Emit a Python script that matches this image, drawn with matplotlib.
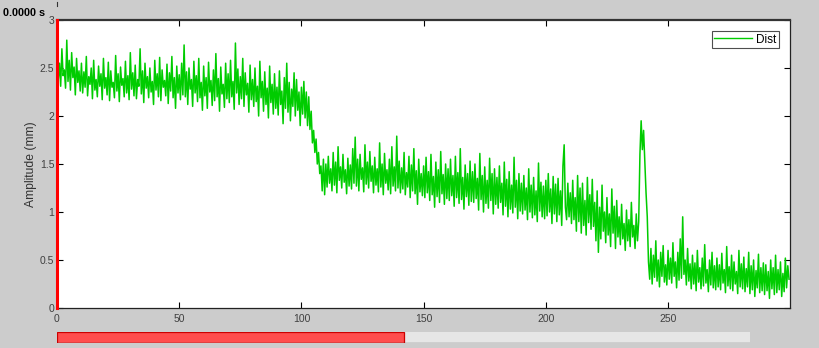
"""Noisy distance trace with a MATLAB-style playback bar underneath."""
import matplotlib

matplotlib.use("Agg")
import matplotlib.pyplot as plt
import numpy as np
from matplotlib.lines import Line2D
from matplotlib.patches import Rectangle

plt.rcParams["font.family"] = ["Liberation Sans", "DejaVu Sans"]

# Samples every 0.5 s (one row = 10 s).
SAMPLE_STEP = 0.5
DIST = [
    2.62, 2.38, 2.55, 2.31, 2.70, 2.42, 2.48, 2.29, 2.79, 2.36, 2.58, 2.27, 2.66, 2.40, 2.51, 2.22, 2.60, 2.35, 2.47, 2.26,
    2.55, 2.24, 2.46, 2.30, 2.62, 2.21, 2.41, 2.33, 2.50, 2.18, 2.58, 2.27, 2.38, 2.20, 2.52, 2.31, 2.44, 2.17, 2.60, 2.29,
    2.40, 2.22, 2.56, 2.16, 2.47, 2.30, 2.35, 2.19, 2.63, 2.26, 2.44, 2.15, 2.51, 2.32, 2.39, 2.20, 2.57, 2.24, 2.42, 2.17,
    2.66, 2.28, 2.45, 2.21, 2.53, 2.18, 2.38, 2.31, 2.70, 2.23, 2.47, 2.14, 2.55, 2.29, 2.41, 2.19, 2.50, 2.25, 2.36, 2.12,
    2.58, 2.27, 2.44, 2.20, 2.61, 2.16, 2.48, 2.30, 2.37, 2.21, 2.54, 2.13, 2.45, 2.26, 2.62, 2.19, 2.40, 2.08, 2.52, 2.24,
    2.43, 2.17, 2.55, 2.22, 2.74, 2.20, 2.46, 2.12, 2.50, 2.28, 2.38, 2.10, 2.57, 2.24, 2.42, 2.15, 2.60, 2.19, 2.35, 2.06,
    2.52, 2.21, 2.40, 2.08, 2.56, 2.25, 2.37, 2.11, 2.48, 2.16, 2.65, 2.20, 2.39, 2.05, 2.51, 2.23, 2.33, 2.09, 2.55, 2.18,
    2.44, 2.14, 2.58, 2.20, 2.36, 2.07, 2.76, 2.24, 2.49, 2.12, 2.41, 2.18, 2.60, 2.10, 2.45, 2.22, 2.34, 2.04, 2.53, 2.17,
    2.38, 2.10, 2.50, 2.15, 2.31, 2.00, 2.57, 2.19, 2.36, 2.05, 2.46, 2.12, 2.29, 1.98, 2.52, 2.14, 2.33, 2.02, 2.44, 2.08,
    2.30, 2.01, 2.47, 2.12, 2.26, 1.92, 2.40, 2.08, 2.55, 2.04, 2.35, 1.95, 2.28, 2.10, 2.45, 2.00, 2.38, 2.06, 2.25, 1.90,
    2.30, 2.02, 2.36, 1.98, 2.25, 1.90, 2.20, 1.86, 2.05, 1.72, 1.85, 1.62, 1.76, 1.50, 1.62, 1.40, 1.48, 1.22, 1.55, 1.18,
    1.50, 1.26, 1.58, 1.30, 1.45, 1.22, 1.62, 1.28, 1.52, 1.20, 1.68, 1.33, 1.47, 1.25, 1.60, 1.31, 1.44, 1.19, 1.56, 1.27,
    1.49, 1.24, 1.66, 1.30, 1.78, 1.27, 1.55, 1.22, 1.60, 1.34, 1.46, 1.21, 1.70, 1.29, 1.52, 1.25, 1.63, 1.32, 1.48, 1.20,
    1.57, 1.28, 1.45, 1.21, 1.72, 1.26, 1.50, 1.18, 1.61, 1.30, 1.44, 1.23, 1.55, 1.19, 1.68, 1.27, 1.47, 1.22, 1.79, 1.25,
    1.53, 1.20, 1.46, 1.24, 1.62, 1.18, 1.41, 1.26, 1.58, 1.15, 1.49, 1.22, 1.66, 1.19, 1.43, 1.08, 1.55, 1.21, 1.40, 1.17,
    1.48, 1.15, 1.57, 1.20, 1.42, 1.12, 1.60, 1.18, 1.37, 1.05, 1.52, 1.16, 1.44, 1.10, 1.63, 1.19, 1.39, 1.08, 1.50, 1.14,
    1.45, 1.12, 1.55, 1.17, 1.38, 1.06, 1.58, 1.15, 1.41, 1.09, 1.66, 1.13, 1.36, 1.03, 1.49, 1.16, 1.40, 1.07, 1.53, 1.11,
    1.42, 1.10, 1.50, 1.14, 1.35, 1.02, 1.61, 1.13, 1.38, 1.00, 1.47, 1.09, 1.33, 1.04, 1.56, 1.12, 1.40, 0.98, 1.45, 1.08,
    1.36, 1.04, 1.48, 1.10, 1.30, 0.97, 1.52, 1.06, 1.34, 0.95, 1.42, 1.03, 1.28, 0.99, 1.57, 1.05, 1.33, 0.93, 1.40, 1.01,
    1.30, 0.98, 1.38, 1.02, 1.25, 0.92, 1.45, 1.00, 1.28, 0.94, 1.36, 0.97, 1.22, 0.90, 1.51, 1.01, 1.31, 0.95, 1.27, 0.93,
    1.33, 0.96, 1.40, 1.00, 1.24, 0.88, 1.37, 0.98, 1.29, 0.90, 1.35, 0.97, 1.22, 0.86, 1.48, 1.70, 1.05, 0.92, 1.30, 0.95,
    1.20, 0.88, 1.33, 0.92, 1.15, 0.80, 1.38, 0.90, 1.25, 0.78, 1.30, 0.86, 1.12, 0.76, 1.36, 0.89, 1.18, 0.82, 1.34, 0.85,
    1.10, 0.70, 1.22, 0.58, 1.05, 0.72, 1.28, 0.80, 1.00, 0.68, 1.15, 0.76, 0.98, 0.64, 1.24, 0.78, 1.06, 0.62, 1.12, 0.74,
    0.95, 0.66, 1.08, 0.72, 0.88, 0.60, 1.02, 0.70, 0.92, 0.64, 1.10, 0.74, 0.86, 0.62, 0.98, 0.70, 0.90, 1.60, 1.95, 1.65,
    1.85, 1.52, 1.20, 0.95, 0.48, 0.30, 0.62, 0.25, 0.55, 0.32, 0.70, 0.28, 0.50, 0.22, 0.58, 0.33, 0.65, 0.27, 0.45, 0.24,
    0.60, 0.30, 0.52, 0.26, 0.68, 0.33, 0.48, 0.21, 0.58, 0.29, 0.72, 0.31, 0.95, 0.35, 0.50, 0.24, 0.62, 0.28, 0.46, 0.20,
    0.55, 0.25, 0.47, 0.18, 0.60, 0.27, 0.42, 0.20, 0.52, 0.23, 0.66, 0.26, 0.40, 0.17, 0.50, 0.24, 0.58, 0.21, 0.44, 0.19,
    0.52, 0.22, 0.45, 0.19, 0.57, 0.26, 0.40, 0.16, 0.64, 0.23, 0.43, 0.20, 0.55, 0.18, 0.48, 0.25, 0.38, 0.15, 0.60, 0.22,
    0.46, 0.20, 0.53, 0.17, 0.41, 0.22, 0.58, 0.15, 0.44, 0.19, 0.50, 0.12, 0.39, 0.21, 0.56, 0.16, 0.42, 0.18, 0.47, 0.14,
    0.45, 0.18, 0.38, 0.10, 0.50, 0.20, 0.42, 0.14, 0.55, 0.16, 0.40, 0.19, 0.48, 0.12, 0.36, 0.17, 0.52, 0.21, 0.44, 0.30,
]
X_TICKS = [0, 50, 100, 150, 200, 250]
Y_TICKS = [0, 0.5, 1, 1.5, 2, 2.5, 3]
Y_TICK_LABELS = ["0", "0.5", "1", "1.5", "2", "2.5", "3"]
CURSOR_TIME = 0.0
PROGRESS = 0.5  # fraction of the playback bar that is filled

BG = "#cccccc"
GREEN = "#00cc00"
TICK_COLOR = "#404040"

fig = plt.figure(figsize=(8.19, 3.48), dpi=100, facecolor=BG)
W, H = 819.0, 348.0

ax = fig.add_axes([57 / W, 1 - 308 / H, (790 - 57) / W, (308 - 20) / H])
t = np.arange(len(DIST)) * SAMPLE_STEP
ax.plot(t, DIST, color=GREEN, linewidth=1.1, label="Dist")
ax.axvline(CURSOR_TIME, color="red", linewidth=2.2, zorder=5, clip_on=False)

ax.set_xlim(0, 299.9)
ax.set_ylim(0, 3)
ax.set_xticks(X_TICKS)
ax.set_yticks(Y_TICKS)
ax.set_yticklabels(Y_TICK_LABELS)
ax.tick_params(direction="in", length=4.3, width=0.8, top=True, right=True,
               labelsize=7.5, labelcolor=TICK_COLOR)
ax.tick_params(axis="x", pad=4)
ax.tick_params(axis="y", pad=2)
for side in ("left", "right", "bottom"):
    ax.spines[side].set_linewidth(0.9)
    ax.spines[side].set_color("#222222")
ax.spines["top"].set_linewidth(1.6)
ax.spines["top"].set_color("#333333")
ax.set_ylabel("Amplitude (mm)", fontsize=8.7, color="#333333", labelpad=2)

leg = ax.legend(loc="upper right", fontsize=8.5, frameon=True, fancybox=False,
                borderpad=0.2, handlelength=3.2, handletextpad=0.35,
                borderaxespad=0.95)
leg.get_frame().set_edgecolor("#222222")
leg.get_frame().set_linewidth(0.8)
leg.get_lines()[0].set_linewidth(1.0)

fig.text(3 / W, 1 - 12.5 / H, f"{CURSOR_TIME:.4f} s", fontsize=7.8,
         fontweight="bold", va="center", ha="left", color="black")
fig.add_artist(Line2D([57 / W, 57 / W], [1 - 2 / H, 1 - 6 / H],
                      color="#333333", linewidth=0.8))

# Playback progress bar under the plot.
bar = fig.add_axes([57 / W, 1 - 343 / H, (750 - 57) / W, 11 / H])
bar.set_xlim(0, 1)
bar.set_ylim(0, 1)
bar.add_patch(Rectangle((0, 0), 1, 1, facecolor="#e6e6e6", edgecolor="none"))
bar.add_patch(Rectangle((0, 0.02), PROGRESS, 0.96, facecolor="#ff4d4d",
                        edgecolor="#cc0000", linewidth=0.9))
bar.axhline(0, color="#333333", linewidth=0.9)
bar.set_axis_off()

fig.savefig("out.png", dpi=100, facecolor=BG)
